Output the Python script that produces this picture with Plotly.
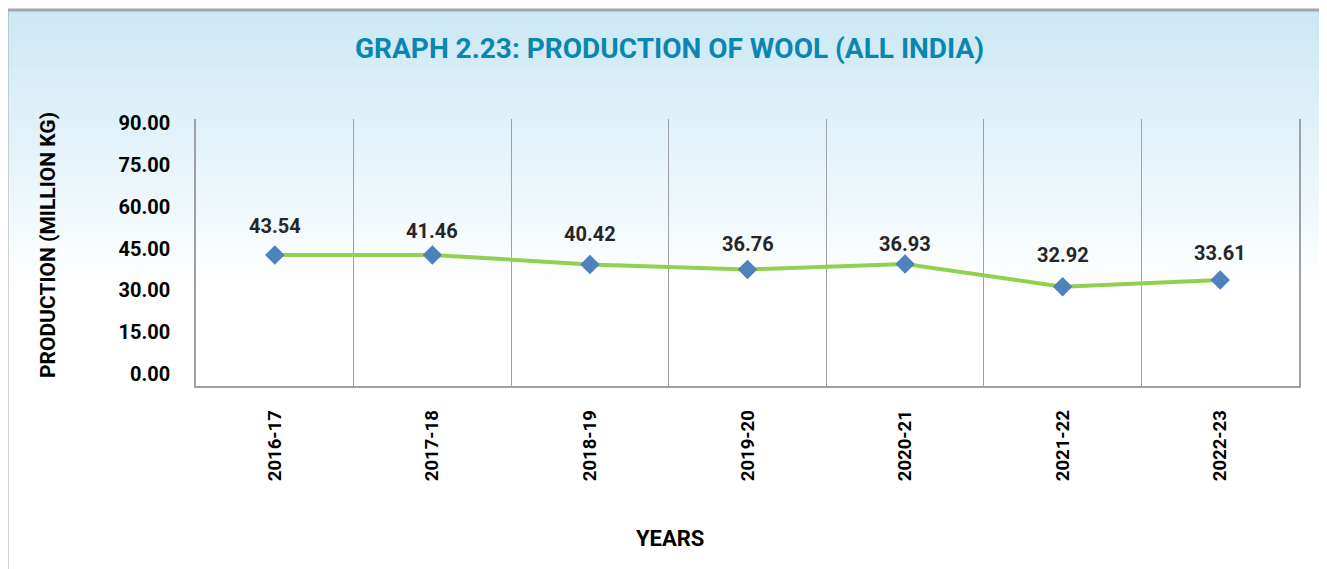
import plotly.graph_objects as go

# ---- data ----
years = ["2016-17", "2017-18", "2018-19", "2019-20", "2020-21", "2021-22", "2022-23"]
marker_values = [42.7, 42.7, 39.3, 37.5, 39.4, 31.3, 33.7]      # where the markers sit
label_values = [43.54, 41.46, 40.42, 36.76, 36.93, 32.92, 33.61]  # printed data labels
y_ticks = [0, 15, 30, 45, 60, 75, 90]

# page body has an 8px margin -> draw the figure 8px smaller and shift coordinates
OFF = 8
W, H = 1327 - OFF, 569 - OFF
ML, MR, MT, MB = 196 - OFF, 1327 - 1299, 119 - OFF, 569 - 386
FONT = "Roboto"

fig = go.Figure()
fig.add_trace(go.Scatter(
    x=years, y=marker_values, mode="lines+markers",
    line=dict(color="#92d050", width=4),
    marker=dict(symbol="diamond", size=15, color="#4f81bd"),
    hoverinfo="skip", showlegend=False,
))

# data labels
for yr, v in zip(years, label_values):
    fig.add_annotation(x=yr, y=v, text=f"{v:.2f}", showarrow=False, yshift=27,
                       xanchor="center", yanchor="middle",
                       font=dict(family=FONT, size=20, color="#262626", weight="bold"))

ph = H - MT - MB
pw = W - ML - MR
def py2paper(py):          # py = pixel row in the reference image
    return (H - MB - (py - OFF)) / ph
def px2paper(px):          # px = pixel column in the reference image
    return (px - OFF - ML) / pw

shapes = []
top_px, bot_px, step = 10, 290, 3
c0 = (204, 232, 245)
n = (bot_px - top_px) // step
for i in range(n):
    t = i / (n - 1)
    r = int(c0[0] + (255 - c0[0]) * t)
    g = int(c0[1] + (255 - c0[1]) * t)
    b = int(c0[2] + (255 - c0[2]) * t)
    y0 = top_px + i * step
    shapes.append(dict(type="rect", xref="paper", yref="paper", layer="below",
                       x0=px2paper(7), x1=px2paper(1325),
                       y0=py2paper(y0 + step + 0.5), y1=py2paper(y0),
                       fillcolor=f"rgb({r},{g},{b})", line=dict(width=0)))
# outer frame
shapes.append(dict(type="rect", xref="paper", yref="paper", layer="above",
                   x0=px2paper(7), x1=px2paper(1325),
                   y0=py2paper(620), y1=py2paper(10),
                   fillcolor="rgba(0,0,0,0)", line=dict(color="#a6a6a6", width=3)))

fig.update_layout(
    width=W, height=H,
    margin=dict(l=ML, r=MR, t=MT, b=MB),
    paper_bgcolor="white", plot_bgcolor="rgba(0,0,0,0)",
    shapes=shapes,
    font=dict(family=FONT, color="black"),
)

fig.update_xaxes(
    type="category", range=[-0.5, 6.5],
    tickson="boundaries", showgrid=True, gridcolor="#a0a0a0", gridwidth=1,
    showline=True, linecolor="#a0a0a0", linewidth=1.5,
    ticks="", tickangle=-90, ticklabelstandoff=15,
    tickfont=dict(family=FONT, size=18.5, color="black", weight="bold"),
)
fig.update_yaxes(
    range=[-4.30, 91.43], tickvals=y_ticks, tickformat=".2f",
    showgrid=False, zeroline=False,
    showline=True, mirror=True, linecolor="#a0a0a0", linewidth=1.5,
    ticks="", ticklabelstandoff=20,
    tickfont=dict(family=FONT, size=20, color="black", weight="bold"),
)

# titles
fig.add_annotation(xref="paper", yref="paper", x=px2paper(669), y=py2paper(48),
                   xanchor="center", yanchor="middle",
                   text="GRAPH 2.23: PRODUCTION OF WOOL (ALL INDIA)", showarrow=False,
                   font=dict(family=FONT, size=28, color="#0b86b0", weight="bold"))
fig.add_annotation(xref="paper", yref="paper", x=px2paper(48), y=py2paper(245),
                   xanchor="center", yanchor="middle",
                   text="PRODUCTION (MILLION KG)", textangle=-90, showarrow=False,
                   font=dict(family=FONT, size=21, color="black", weight="bold"))
fig.add_annotation(xref="paper", yref="paper", x=px2paper(670), y=py2paper(538),
                   xanchor="center", yanchor="middle",
                   text="YEARS", showarrow=False,
                   font=dict(family=FONT, size=22, color="black", weight="bold"))

fig.write_html("out.html")
